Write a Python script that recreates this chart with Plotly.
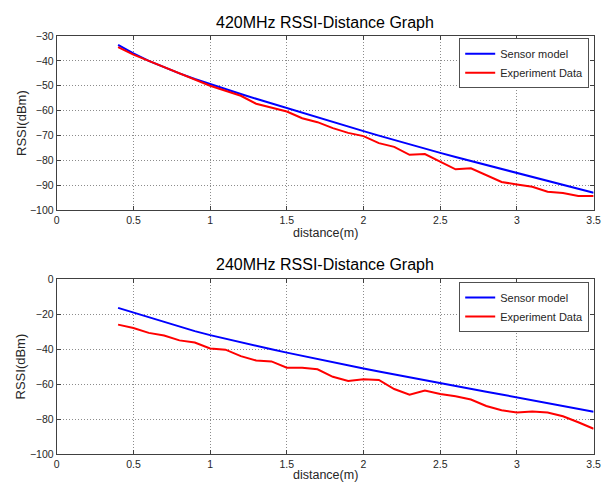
import plotly.graph_objects as go

distance = [0.4, 0.5, 0.6, 0.7, 0.8, 0.9, 1.0, 1.1, 1.2, 1.3, 1.4, 1.5, 1.6, 1.7, 1.8, 1.9,
            2.0, 2.1, 2.2, 2.3, 2.4, 2.5, 2.6, 2.7, 2.8, 2.9, 3.0, 3.1, 3.2, 3.3, 3.4, 3.5]

model_420 = [-33.6, -37.0, -40.0, -42.6, -45.0, -47.3, -49.4, -51.4, -53.3, -55.2, -57.1, -58.9,
             -60.8, -62.7, -64.5, -66.4, -68.2, -70.0, -71.8, -73.5, -75.2, -76.9, -78.6, -80.2,
             -81.9, -83.5, -85.1, -86.7, -88.3, -89.8, -91.4, -92.9]
exp_420 = [-34.5, -37.5, -40.0, -42.5, -45.0, -47.5, -50.0, -52.0, -54.0, -57.2, -58.9, -60.3,
           -63.0, -64.6, -67.0, -68.9, -70.2, -73.0, -74.5, -77.7, -77.4, -80.3, -83.5, -83.1,
           -85.7, -88.6, -89.6, -90.5, -92.5, -93.0, -94.2, -94.2]

model_240 = [-16.4, -19.1, -22.0, -24.7, -27.2, -29.7, -32.0, -34.1, -36.2, -38.2, -40.1, -42.0,
             -43.9, -45.8, -47.6, -49.4, -51.1, -52.8, -54.5, -56.2, -57.9, -59.5, -61.1, -62.7,
             -64.3, -65.9, -67.5, -69.2, -70.8, -72.5, -74.1, -75.8]
exp_240 = [-26.0, -27.9, -30.7, -32.2, -35.0, -36.2, -39.6, -40.3, -44.0, -46.5, -47.0, -50.6,
           -50.6, -51.5, -55.8, -58.2, -57.2, -57.6, -62.8, -66.0, -63.6, -65.6, -66.9, -68.8,
           -72.5, -74.9, -76.2, -75.6, -76.2, -78.4, -81.8, -85.5]

x_ticks = [0, 0.5, 1, 1.5, 2, 2.5, 3, 3.5]
x_tick_text = ["0", "0.5", "1", "1.5", "2", "2.5", "3", "3.5"]
titles = ["420MHz RSSI-Distance Graph", "240MHz RSSI-Distance Graph"]
series_names = ["Sensor model", "Experiment Data"]
x_title = "distance(m)"
y_title = "RSSI(dBm)"

# page body has an 8px default margin; figure is sized to fit the 616x492 window
OFF = 8
W, H = 616 - 2 * OFF, 492 - 2 * OFF
FONT = "Liberation Sans, Arial, sans-serif"
TXT = "#262626"
AX = "#404040"


def px(v):
    return (v - OFF) / W


def py(v):
    return 1 - (v - OFF) / H


fig = go.Figure()
fig.add_trace(go.Scatter(x=distance, y=model_420, mode="lines", name=series_names[0],
                         line=dict(color="#0000ff", width=2), xaxis="x", yaxis="y", legend="legend"))
fig.add_trace(go.Scatter(x=distance, y=exp_420, mode="lines", name=series_names[1],
                         line=dict(color="#ff0000", width=2), xaxis="x", yaxis="y", legend="legend"))
fig.add_trace(go.Scatter(x=distance, y=model_240, mode="lines", name=series_names[0],
                         line=dict(color="#0000ff", width=2), xaxis="x2", yaxis="y2", legend="legend2"))
fig.add_trace(go.Scatter(x=distance, y=exp_240, mode="lines", name=series_names[1],
                         line=dict(color="#ff0000", width=2), xaxis="x2", yaxis="y2", legend="legend2"))

x_dom = [px(54.5), px(600.5)]
top_dom = [py(209.5), py(30.5)]
bot_dom = [py(459.5), py(280)]

axis_common = dict(showline=True, linecolor=AX, linewidth=1, mirror="ticks",
                   ticks="inside", ticklen=4, tickcolor=AX,
                   showgrid=True, gridcolor="#8c8c8c", griddash="1px,2px", gridwidth=1,
                   zeroline=False, tickfont=dict(family=FONT, size=10.5, color=TXT))

legend_common = dict(xanchor="right", yanchor="top",
                     bordercolor="#505050", borderwidth=1, bgcolor="white",
                     font=dict(family=FONT, size=11, color=TXT), tracegroupgap=0,
                     itemwidth=30)

mid_x = (x_dom[0] + x_dom[1]) / 2
ann = []
for t, ty in zip(titles, [17, 265]):
    ann.append(dict(text=t, x=mid_x, y=py(ty), xref="paper", yref="paper", showarrow=False,
                    font=dict(family=FONT, size=16, color="black"), yanchor="middle"))
for ty in [233, 481]:
    ann.append(dict(text=x_title, x=mid_x, y=py(ty), xref="paper", yref="paper", showarrow=False,
                    font=dict(family=FONT, size=12.5, color=TXT), yanchor="middle"))
for dom in [top_dom, bot_dom]:
    ann.append(dict(text=y_title, x=px(18), y=(dom[0] + dom[1]) / 2, xref="paper", yref="paper",
                    showarrow=False, textangle=-90,
                    font=dict(family=FONT, size=13, color=TXT), xanchor="center", yanchor="middle"))

fig.update_layout(
    width=W, height=H,
    margin=dict(l=0, r=0, t=0, b=0),
    paper_bgcolor="white", plot_bgcolor="white",
    font=dict(family=FONT, color=TXT),
    xaxis=dict(domain=x_dom, anchor="y", range=[0, 3.5], tickvals=x_ticks, ticktext=x_tick_text,
               **axis_common),
    yaxis=dict(domain=top_dom, anchor="x", range=[-100, -30], dtick=10, **axis_common),
    xaxis2=dict(domain=x_dom, anchor="y2", range=[0, 3.5], tickvals=x_ticks, ticktext=x_tick_text,
                **axis_common),
    yaxis2=dict(domain=bot_dom, anchor="x2", range=[-100, 0], dtick=20, **axis_common),
    legend=dict(x=px(596), y=py(33), **legend_common),
    legend2=dict(x=px(596), y=py(283), **legend_common),
    annotations=ann,
)

fig.write_html("out.html", config={"displayModeBar": False})
